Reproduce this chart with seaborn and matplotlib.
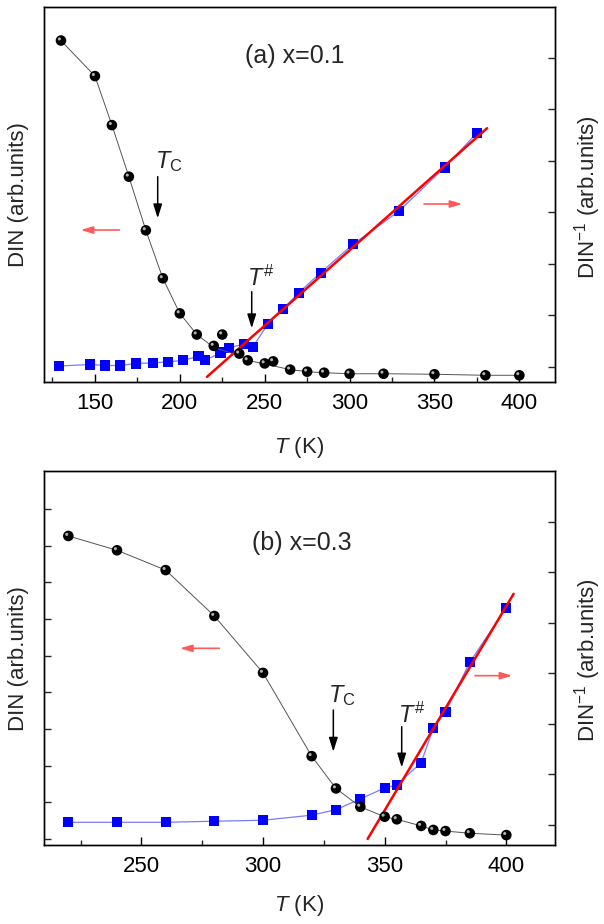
import numpy as np
import pandas as pd
import matplotlib
matplotlib.use("Agg")
import matplotlib.pyplot as plt
import matplotlib.transforms as mtransforms
from matplotlib.ticker import MultipleLocator, FixedLocator, NullFormatter
import seaborn as sns

# ---------------- data ----------------
# panel (a) x=0.1 : DIN (left axis) and DIN^-1 (right axis), arbitrary units
a_din_T = [130, 150, 160, 170, 180, 190, 200, 210, 220, 225, 235, 240, 250, 255,
           265, 275, 285, 300, 320, 350, 380, 400]
a_din_v = [6.33, 5.64, 4.69, 3.69, 2.65, 1.72, 1.04, 0.63, 0.41, 0.63, 0.26, 0.13,
           0.07, 0.11, -0.05, -0.09, -0.11, -0.13, -0.13, -0.14, -0.16, -0.16]
a_curve_T = [130, 150, 160, 170, 180, 190, 200, 210, 220, 235, 240, 250, 265,
             275, 285, 300, 320, 350, 380, 400]
a_curve_v = [6.33, 5.64, 4.69, 3.69, 2.65, 1.72, 1.04, 0.63, 0.38, 0.22, 0.13,
             0.06, -0.05, -0.09, -0.11, -0.13, -0.13, -0.14, -0.16, -0.16]
a_inv_T = [129, 147, 156, 165, 174, 184, 193, 202, 211, 215, 224, 229, 238, 243,
           252, 261, 270, 283, 302, 329, 356, 375]
a_inv_v = [0.02, 0.05, 0.03, 0.03, 0.07, 0.08, 0.10, 0.13, 0.21, 0.13, 0.28, 0.37,
           0.45, 0.39, 0.84, 1.13, 1.44, 1.83, 2.38, 3.02, 3.87, 4.54]
a_fit_T = [216, 381]
a_fit_v = [-0.19, 4.63]

# panel (b) x=0.3
b_din_T = [220, 240, 260, 280, 300, 320, 330, 340, 350, 355, 365, 370, 375, 385, 400]
b_din_v = [8.26, 7.87, 7.33, 6.08, 4.53, 2.26, 1.38, 0.88, 0.61, 0.54, 0.36, 0.25,
           0.22, 0.16, 0.11]
b_inv_T = [220, 240, 260, 280, 300, 320, 330, 340, 350, 355, 365, 370, 375, 385, 400]
b_inv_v = [0.05, 0.05, 0.05, 0.07, 0.09, 0.19, 0.30, 0.51, 0.73, 0.79, 1.23, 1.91,
           2.23, 3.22, 4.29]
b_fit_T = [343, 403]
b_fit_v = [-0.28, 4.57]

x_ticks_a = [150, 200, 250, 300, 350, 400]
x_ticks_b = [250, 300, 350, 400]

# ---------------- style ----------------
sns.set_theme(style="ticks")
FONT = "Liberation Sans"
plt.rcParams["font.family"] = [FONT, "DejaVu Sans"]
plt.rcParams["mathtext.fontset"] = "custom"
plt.rcParams["mathtext.rm"] = FONT
plt.rcParams["mathtext.it"] = FONT + ":italic"
plt.rcParams["mathtext.sf"] = FONT
plt.rcParams["axes.linewidth"] = 1.0

W, H = 604, 924
fig = plt.figure(figsize=(W / 100, H / 100), dpi=100)


def frac_axes(left, top, right, bottom):
    return fig.add_axes([left / W, 1 - bottom / H, (right - left) / W, (bottom - top) / H])


def sphere(ax, T, v):
    df = pd.DataFrame({"T": T, "v": v})
    sns.scatterplot(data=df, x="T", y="v", ax=ax, marker="o", s=58,
                    color="black", edgecolor="none", linewidth=0, zorder=5)
    off = mtransforms.ScaledTranslation(-1.6 / 100, 1.6 / 100, fig.dpi_scale_trans)
    hl = ax.scatter(df["T"], df["v"], s=5, color="#b0b0b0", edgecolor="none", zorder=6)
    hl.set_offset_transform(ax.transData + off)


def panel(box, din_T, din_v, curve_T, curve_v, inv_T, inv_v, fit_T, fit_v,
          xlim, xticks, ylim_l, ylim_r, left_ticks, right_ticks):
    ax1 = frac_axes(*box)
    ax2 = ax1.twinx()
    # right axis: DIN^-1
    dfi = pd.DataFrame({"T": inv_T, "v": inv_v})
    sns.lineplot(data=dfi, x="T", y="v", ax=ax2, color="#7a7aff", lw=0.9,
                 estimator=None, sort=False, zorder=2)
    sns.lineplot(x=fit_T, y=fit_v, ax=ax2, color="#ff0000", lw=1.8,
                 estimator=None, sort=False, zorder=4)
    sns.scatterplot(data=dfi, x="T", y="v", ax=ax2, marker="s", s=54,
                    color="#0000ff", edgecolor="none", linewidth=0, zorder=3)
    # left axis: DIN
    sns.lineplot(x=curve_T, y=curve_v, ax=ax1, color="#555555", lw=0.7,
                 estimator=None, sort=False, zorder=4)
    sphere(ax1, din_T, din_v)

    ax1.set_zorder(ax2.get_zorder() + 1)
    ax1.patch.set_visible(False)

    ax1.set_xlim(*xlim)
    ax1.set_ylim(*ylim_l)
    ax2.set_ylim(*ylim_r)
    ax1.xaxis.set_major_locator(FixedLocator(xticks))
    ax1.xaxis.set_minor_locator(MultipleLocator(25))
    ax1.set_yticks(left_ticks)
    ax1.yaxis.set_major_formatter(NullFormatter())
    ax2.set_yticks(right_ticks)
    ax2.yaxis.set_major_formatter(NullFormatter())
    ax1.tick_params(axis="x", which="major", direction="in", length=6, width=1.0,
                    labelsize=16, pad=8, top=False, colors="black")
    ax1.tick_params(axis="x", which="minor", direction="in", length=3.5, width=1.0,
                    top=False)
    ax1.tick_params(axis="y", direction="in", length=5, width=1.0, left=True,
                    right=False)
    ax2.tick_params(axis="y", direction="in", length=5, width=1.0, right=True)
    for ax in (ax1, ax2):
        ax.set_xlabel("")
        ax.set_ylabel("")
        for s in ax.spines.values():
            s.set_visible(True)
            s.set_color("black")
            s.set_linewidth(1.0)
    return ax1, ax2


def annotations(ax, title, title_xy, tc_txt, tc_arr, th_txt, th_arr, rl, rr):
    tr = ax.transAxes
    ax.text(*title_xy, title, transform=tr, ha="center", va="center", fontsize=18,
            zorder=10)
    ax.text(*tc_txt, r"$T_{\mathrm{C}}$", transform=tr, ha="left", va="baseline",
            fontsize=17, zorder=10)
    ax.text(*th_txt, r"$T^{\#}$", transform=tr, ha="left", va="baseline",
            fontsize=17, zorder=10)
    for (x, y0, y1) in (tc_arr, th_arr):
        ax.annotate("", xy=(x, y1), xytext=(x, y0), xycoords=tr, textcoords=tr,
                    arrowprops=dict(arrowstyle="-|>,head_length=0.7,head_width=0.22",
                                    color="black", lw=1.1, shrinkA=0, shrinkB=0),
                    zorder=10)
    for (x0, x1, y) in (rl, rr):
        ax.annotate("", xy=(x1, y), xytext=(x0, y), xycoords=tr, textcoords=tr,
                    arrowprops=dict(arrowstyle="-|>,head_length=0.6,head_width=0.18",
                                    color="#ff5a5a", lw=1.2, shrinkA=0, shrinkB=0),
                    zorder=10)


# ---------------- panel (a) ----------------
a1, a2 = panel((44, 7, 555, 382), a_din_T, a_din_v, a_curve_T, a_curve_v,
               a_inv_T, a_inv_v, a_fit_T, a_fit_v,
               (120, 421), x_ticks_a, (-0.29, 6.98), (-0.29, 6.98),
               [], list(range(0, 7)))
annotations(a1, "(a) x=0.1", (0.490, 0.868),
            (0.217, 0.571), (0.2225, 0.5475, 0.4365),
            (0.397, 0.256), (0.4065, 0.2408, 0.1432),
            (0.1474, 0.0718, 0.4053), (0.7436, 0.8186, 0.4747))

# ---------------- panel (b) ----------------
b1, b2 = panel((44, 471, 555, 845), b_din_T, b_din_v, b_din_T, b_din_v,
               b_inv_T, b_inv_v, b_fit_T, b_fit_v,
               (210, 420), x_ticks_b, (-0.16, 10.03), (-0.40, 7.0),
               list(range(0, 10)), list(range(0, 7)))
annotations(b1, "(b) x=0.3", (0.505, 0.8088),
            (0.5558, 0.3832), (0.5662, 0.361, 0.2495),
            (0.6928, 0.3254), (0.7000, 0.3163, 0.2072),
            (0.3431, 0.2661, 0.5259), (0.8434, 0.9164, 0.4527))

# ---------------- axis labels ----------------
for yc in (447, 905):
    fig.text(299.5 / W, 1 - yc / H, r"$T$ (K)", ha="center", va="center", fontsize=16)
for yc in (195, 659):
    fig.text(19 / W, 1 - yc / H, "DIN (arb.units)", ha="center", va="center",
             rotation=90, fontsize=16)
for yc in (197, 660):
    fig.text(588 / W, 1 - yc / H, r"DIN$^{-1}$ (arb.units)", ha="center",
             va="center", rotation=90, fontsize=16)

fig.savefig("out.png", dpi=100)
